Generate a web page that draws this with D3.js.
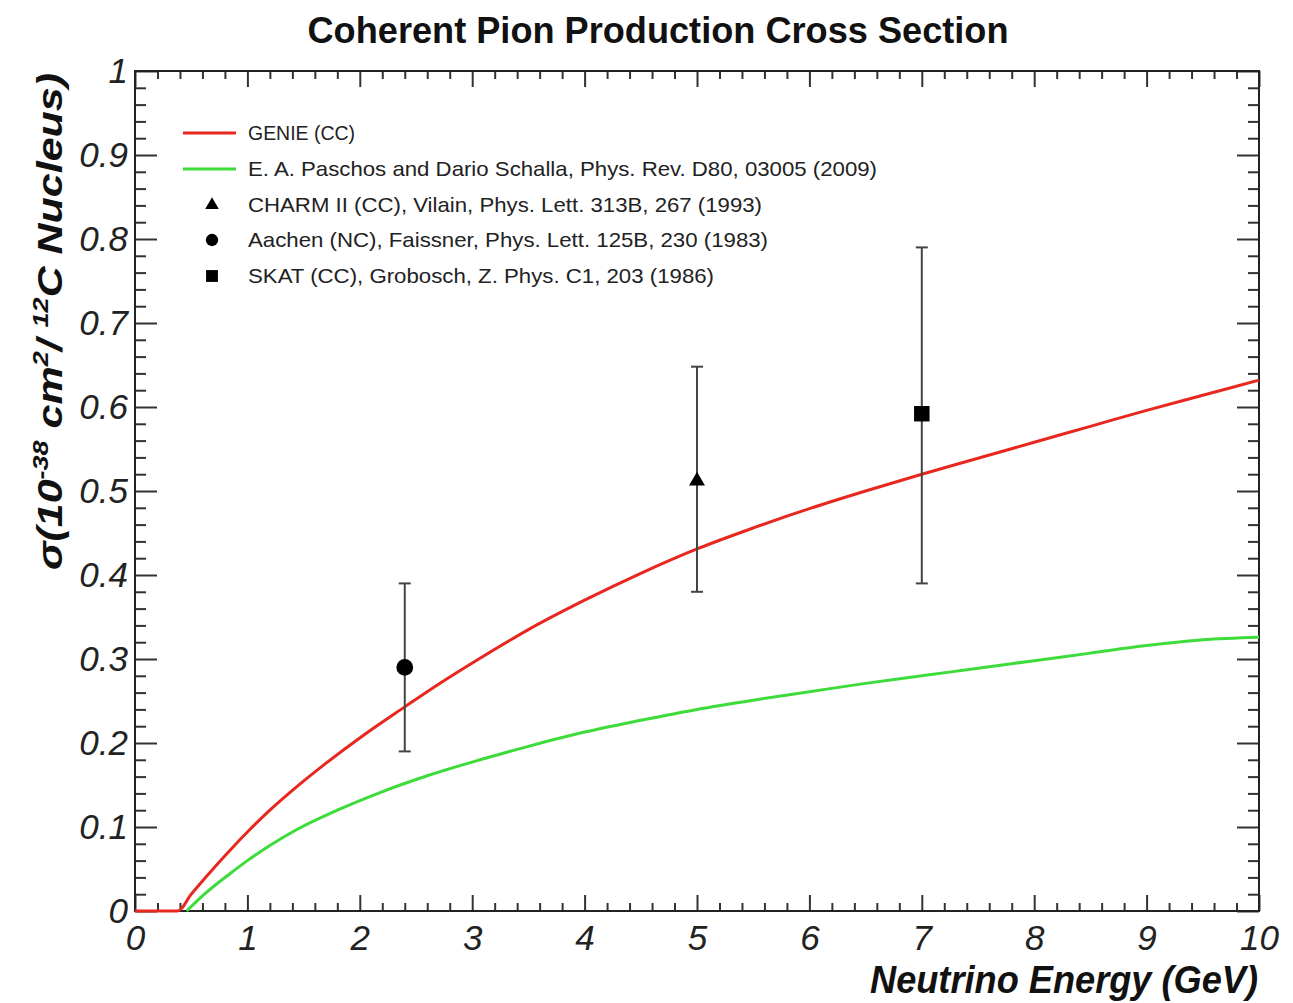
<!DOCTYPE html>
<html lang="en">
<head>
<meta charset="UTF-8">
<title>Coherent Pion Production Cross Section</title>
<style>
  body { margin: 0; background: #fff; }
  text { font-family: "Liberation Sans", Arial, Helvetica, sans-serif; }
</style>
</head>
<body>
<script src="https://cdn.jsdelivr.net/npm/d3@7"></script>
<script>
// GENIE (CC) curve
var genieE = [0, 0.2, 0.38, 0.5, 0.7, 0.85, 1.0, 1.2, 1.44, 1.7, 2.03, 2.4, 2.7, 3.07, 3.5, 4, 4.5, 5, 5.5, 6, 6.5, 7, 7.5, 8, 8.5, 9, 9.5, 10]
var genieXs = [0, 0, 0, 0.02, 0.051, 0.073, 0.094, 0.12, 0.148, 0.176, 0.209, 0.243, 0.270, 0.301, 0.335, 0.370, 0.402, 0.431, 0.456, 0.479, 0.500, 0.520, 0.539, 0.558, 0.577, 0.596, 0.614, 0.632]
// Paschos & Schalla curve
var paschosE = [0.46, 0.6, 0.85, 1.0, 1.2, 1.44, 1.8, 2.18, 2.6, 3.07, 3.5, 4, 4.5, 5, 5.5, 6, 6.5, 7, 7.5, 8, 8.5, 9, 9.5, 10]
var paschosXs = [0, 0.018, 0.045, 0.060, 0.078, 0.097, 0.120, 0.141, 0.161, 0.180, 0.196, 0.213, 0.227, 0.240, 0.251, 0.261, 0.271, 0.280, 0.289, 0.298, 0.307, 0.316, 0.323, 0.326]
// data points: energy, value, error low, error high
var expNames = ['CHARM II (CC), Vilain, Phys. Lett. 313B, 267 (1993)', 'Aachen (NC), Faissner, Phys. Lett. 125B, 230 (1983)', 'SKAT (CC), Grobosch, Z. Phys. C1, 203 (1986)']
var expE = [5.0, 2.4, 7.0]
var expXs = [0.512, 0.290, 0.592]
var expLo = [0.38, 0.19, 0.39]
var expHi = [0.648, 0.39, 0.79]
var expShape = ['triangle', 'circle', 'square']

var lineNames = ['GENIE (CC)', 'E. A. Paschos and Dario Schalla, Phys. Rev. D80, 03005 (2009)']
var legendWidths = [107, 629, 514, 520, 466]

var xMajor = d3.range(0, 11, 1)
var yMajor = d3.range(0, 11, 1).map(function(d){ return d / 10 })

var width = 1293, height = 1003
var m = {left: 135, right: 1259, top: 71, bottom: 911}
var red = '#e8271f', green = '#3ddc3a'

var svg = d3.select('body').append('svg').attr('width', width).attr('height', height)

var x = d3.scaleLinear().domain([0, 10]).range([m.left, m.right])
var y = d3.scaleLinear().domain([0, 1]).range([m.bottom, m.top])

var xMinor = d3.range(0, 10.001, 0.2).filter(function(d){ return Math.abs(d - Math.round(d)) > 1e-6 })
var yMinor = d3.range(0, 1.0001, 0.02).filter(function(d){ return Math.abs(d * 10 - Math.round(d * 10)) > 1e-6 })

function styleAxis(g){
  g.select('.domain').remove()
  g.selectAll('line').attr('stroke', '#333').attr('stroke-width', 2)
  g.selectAll('text').attr('font-size', 35).attr('font-style', 'italic').attr('fill', '#222')
}

// bottom
svg.append('g').attr('transform', 'translate(0,' + m.bottom + ')')
  .call(d3.axisBottom(x).tickValues(xMajor).tickSizeInner(-16).tickSizeOuter(0).tickPadding(14).tickFormat(d3.format('d')))
  .call(styleAxis)
svg.append('g').attr('transform', 'translate(0,' + m.bottom + ')')
  .call(d3.axisBottom(x).tickValues(xMinor).tickSizeInner(-8).tickSizeOuter(0).tickFormat(''))
  .call(styleAxis)
// top
svg.append('g').attr('transform', 'translate(0,' + m.top + ')')
  .call(d3.axisTop(x).tickValues(xMajor).tickSizeInner(-16).tickSizeOuter(0).tickFormat(''))
  .call(styleAxis)
svg.append('g').attr('transform', 'translate(0,' + m.top + ')')
  .call(d3.axisTop(x).tickValues(xMinor).tickSizeInner(-8).tickSizeOuter(0).tickFormat(''))
  .call(styleAxis)
// left
svg.append('g').attr('transform', 'translate(' + m.left + ',0)')
  .call(d3.axisLeft(y).tickValues(yMajor).tickSizeInner(-22).tickSizeOuter(0).tickPadding(7).tickFormat(function(d){ return d === 0 ? '0' : d === 1 ? '1' : d3.format('.1f')(d) }))
  .call(styleAxis)
svg.append('g').attr('transform', 'translate(' + m.left + ',0)')
  .call(d3.axisLeft(y).tickValues(yMinor).tickSizeInner(-11).tickSizeOuter(0).tickFormat(''))
  .call(styleAxis)
// right
svg.append('g').attr('transform', 'translate(' + m.right + ',0)')
  .call(d3.axisRight(y).tickValues(yMajor).tickSizeInner(-22).tickSizeOuter(0).tickFormat(''))
  .call(styleAxis)
svg.append('g').attr('transform', 'translate(' + m.right + ',0)')
  .call(d3.axisRight(y).tickValues(yMinor).tickSizeInner(-11).tickSizeOuter(0).tickFormat(''))
  .call(styleAxis)

// frame
svg.append('rect').attr('x', m.left).attr('y', m.top)
  .attr('width', m.right - m.left).attr('height', m.bottom - m.top)
  .attr('fill', 'none').attr('stroke', '#222').attr('stroke-width', 2)

// curves
var line = d3.line().x(function(d){ return x(d[0]) }).y(function(d){ return y(d[1]) }).curve(d3.curveMonotoneX)

svg.append('path').datum(d3.zip(paschosE, paschosXs)).attr('d', line)
  .attr('fill', 'none').attr('stroke', green).attr('stroke-width', 3)
svg.append('path').datum(d3.zip(genieE, genieXs)).attr('d', line)
  .attr('fill', 'none').attr('stroke', red).attr('stroke-width', 3)

// markers
var sym = {
  triangle: d3.symbol().type(d3.symbolTriangle).size(110),
  circle: d3.symbol().type(d3.symbolCircle).size(220),
  square: d3.symbol().type(d3.symbolSquare).size(240)
}

var pts = svg.selectAll('.pt').data(d3.range(expE.length)).enter().append('g').attr('class', 'pt')
pts.append('line')
  .attr('x1', function(i){ return x(expE[i]) }).attr('x2', function(i){ return x(expE[i]) })
  .attr('y1', function(i){ return y(expLo[i]) }).attr('y2', function(i){ return y(expHi[i]) })
  .attr('stroke', '#444').attr('stroke-width', 2)
pts.each(function(i){
  var g = d3.select(this)
  ;[expLo[i], expHi[i]].forEach(function(v){
    g.append('line').attr('x1', x(expE[i]) - 6).attr('x2', x(expE[i]) + 6)
      .attr('y1', y(v)).attr('y2', y(v)).attr('stroke', '#444').attr('stroke-width', 2)
  })
})
pts.append('path')
  .attr('transform', function(i){ return 'translate(' + x(expE[i]) + ',' + y(expXs[i]) + ')' })
  .attr('d', function(i){ return sym[expShape[i]]() })
  .attr('fill', '#000')

// legend
var legY = [133, 169, 205, 240, 276]
var legText = lineNames.concat(expNames)
var leg = svg.append('g')
lineNames.forEach(function(n, i){
  leg.append('line').attr('x1', 183).attr('x2', 236).attr('y1', legY[i]).attr('y2', legY[i])
    .attr('stroke', i === 0 ? red : green).attr('stroke-width', 3)
})
expShape.forEach(function(s, i){
  var shp = d3.symbol().type(s === 'triangle' ? d3.symbolTriangle : s === 'circle' ? d3.symbolCircle : d3.symbolSquare)
    .size(s === 'triangle' ? 80 : s === 'circle' ? 120 : 140)
  leg.append('path').attr('transform', 'translate(212,' + legY[i + 2] + ')').attr('d', shp()).attr('fill', '#000')
})
legText.forEach(function(t, i){
  leg.append('text').attr('x', 248).attr('y', legY[i] + 7).attr('font-size', 21).attr('fill', '#222')
    .attr('textLength', legendWidths[i]).attr('lengthAdjust', 'spacingAndGlyphs').text(t)
})

// title
svg.append('text').attr('x', 658).attr('y', 43).attr('text-anchor', 'middle')
  .attr('font-size', 36).attr('font-weight', 'bold').attr('fill', '#111')
  .attr('textLength', 701).attr('lengthAdjust', 'spacingAndGlyphs')
  .text('Coherent Pion Production Cross Section')

// x title
svg.append('text').attr('x', 1258).attr('y', 993).attr('text-anchor', 'end')
  .attr('font-size', 38).attr('font-weight', 'bold').attr('font-style', 'italic').attr('fill', '#111')
  .attr('textLength', 388).attr('lengthAdjust', 'spacingAndGlyphs')
  .text('Neutrino Energy (GeV)')

// y title
var yt = svg.append('text').attr('transform', 'translate(62,73) rotate(-90)').attr('text-anchor', 'end')
  .attr('font-size', 35).attr('font-weight', 'bold').attr('font-style', 'italic').attr('fill', '#111')
  .attr('textLength', 497).attr('lengthAdjust', 'spacingAndGlyphs')
yt.append('tspan').text('σ(10')
yt.append('tspan').attr('dy', -14).attr('font-size', 22).text('-38')
yt.append('tspan').attr('dy', 14).text(' cm')
yt.append('tspan').attr('dy', -14).attr('font-size', 22).text('2')
yt.append('tspan').attr('dy', 14).text('/ ')
yt.append('tspan').attr('dy', -14).attr('font-size', 22).text('12')
yt.append('tspan').attr('dy', 14).text('C Nucleus)')
</script>
</body>
</html>
